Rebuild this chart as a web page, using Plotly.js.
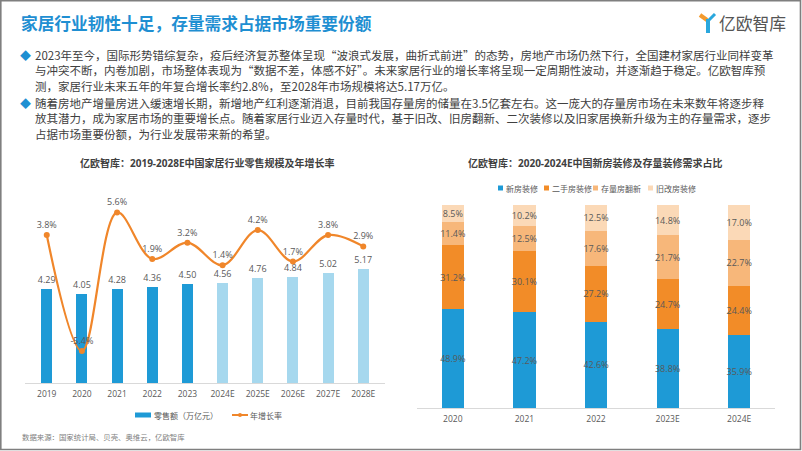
<!DOCTYPE html>
<html>
<head>
<meta charset="utf-8">
<script src="https://cdn.plot.ly/plotly-3.0.1.min.js"></script>
<style>
html,body{margin:0;padding:0;background:#fff;}
#chart{width:802px;height:451px;}
</style>
</head>
<body>
<div id="chart"></div>
<script>
// ---- Left chart data ----
const yearsL = ['2019','2020','2021','2022','2023','2024E','2025E','2026E','2027E','2028E'];
const retailScale = [4.29, 4.05, 4.28, 4.36, 4.50, 4.56, 4.76, 4.84, 5.02, 5.17];
const growthRate = [3.8, -5.4, 5.6, 1.9, 3.2, 1.4, 4.2, 1.7, 3.8, 2.9];
const retailLabels = ['4.29','4.05','4.28','4.36','4.50','4.56','4.76','4.84','5.02','5.17'];
const growthLabels = ['3.8%','-5.4%','5.6%','1.9%','3.2%','1.4%','4.2%','1.7%','3.8%','2.9%'];
const seriesNamesL = ['零售额（万亿元）', '年增长率'];

// ---- Right chart data ----
const yearsR = ['2020','2021','2022','2023E','2024E'];
const newHouse = [48.9, 47.2, 42.6, 38.8, 35.9];
const secondHand = [31.2, 30.1, 27.2, 24.7, 24.4];
const stockRenov = [11.4, 12.5, 17.6, 21.7, 22.7];
const oldRenov = [8.5, 10.2, 12.5, 14.8, 17.0];
const seriesNamesR = ['新房装修','二手房装修','存量房翻新','旧改房装修'];

// ---- Text ----
const pageTitle = '家居行业韧性十足，存量需求占据市场重要份额';
const para1 = [
  '2023年至今，国际形势错综复杂，疫后经济复苏整体呈现“波浪式发展，曲折式前进”的态势，房地产市场仍然下行，全国建材家居行业同样变革',
  '与冲突不断，内卷加剧，市场整体表现为“数据不差，体感不好”。未来家居行业的增长率将呈现一定周期性波动，并逐渐趋于稳定。亿欧智库预',
  '测，家居行业未来五年的年复合增长率约2.8%，至2028年市场规模将达5.17万亿。'
];
const para2 = [
  '随着房地产增量房进入缓速增长期，新增地产红利逐渐消退，目前我国存量房的储量在3.5亿套左右。这一庞大的存量房市场在未来数年将逐步释',
  '放其潜力，成为家居市场的重要增长点。随着家居行业迈入存量时代，基于旧改、旧房翻新、二次装修以及旧家居换新升级为主的存量需求，逐步',
  '占据市场重要份额，为行业发展带来新的希望。'
];
const leftTitle = '亿欧智库：2019-2028E中国家居行业零售规模及年增长率';
const rightTitle = '亿欧智库：2020-2024E中国新房装修及存量装修需求占比';
const sourceText = '数据来源：国家统计局、贝壳、奥维云，亿欧智库';

const W = 802, H = 451;
const px = v => v / W;
const py = v => 1 - v / H;
const FONT = '"Open Sans", "Noto Sans CJK SC", sans-serif';
const CJK = '"Noto Sans CJK SC", "Open Sans", sans-serif';
const TXT = '#404040';
const LBL = '#595959';

const darkBlue = '#1e9ad6';
const lightBlue = '#a6d8ee';
const orange = '#f0862a';
const barColors = yearsL.map(y => y.endsWith('E') ? lightBlue : darkBlue);

const traces = [
  {
    type: 'bar', x: yearsL, y: retailScale, name: seriesNamesL[0],
    xaxis: 'x', yaxis: 'y', showlegend: false,
    marker: {color: barColors},
    text: retailLabels, textposition: 'outside', cliponaxis: false,
    constraintext: 'none', textangle: 0,
    textfont: {size: 9, color: LBL, family: FONT},
    hoverinfo: 'skip'
  },
  {
    type: 'scatter', mode: 'lines+markers+text', x: yearsL, y: growthRate, name: seriesNamesL[1],
    xaxis: 'x', yaxis: 'y2', showlegend: false,
    line: {color: orange, width: 2.2, shape: 'spline', smoothing: 1},
    marker: {color: orange, size: 6},
    text: growthLabels, textposition: 'top center', cliponaxis: false,
    textfont: {size: 9, color: LBL, family: FONT},
    hoverinfo: 'skip'
  }
];

const rColors = ['#1e9ad6', '#f28c28', '#f7b77a', '#fbd9b7'];
const rData = [newHouse, secondHand, stockRenov, oldRenov];
rData.forEach((vals, i) => {
  traces.push({
    type: 'bar', x: yearsR, y: vals, name: seriesNamesR[i],
    xaxis: 'x3', yaxis: 'y3', showlegend: false,
    marker: {color: rColors[i]},
    text: vals.map(v => v.toFixed(1) + '%'), textposition: 'inside',
    insidetextanchor: 'middle', constraintext: 'none', textangle: 0,
    textfont: {size: 9, color: LBL, family: FONT},
    hoverinfo: 'skip'
  });
});

const annotations = [];
const shapes = [
  // frame
  {type: 'rect', xref: 'paper', yref: 'paper', x0: px(0.8), x1: px(800.5), y0: py(449.5), y1: py(0.8),
   line: {color: '#7f7f7f', width: 1.6}},
  // logo mark
  {type: 'line', xref: 'paper', yref: 'paper', x0: px(700), y0: py(15), x1: px(707), y1: py(20),
   line: {color: '#f39a2e', width: 4}},
  {type: 'line', xref: 'paper', yref: 'paper', x0: px(715), y0: py(14), x1: px(709), y1: py(20),
   line: {color: '#2aa7dd', width: 3}},
  {type: 'line', xref: 'paper', yref: 'paper', x0: px(708), y0: py(19), x1: px(708), y1: py(33),
   line: {color: '#2aa7dd', width: 4}}
];

annotations.push({
  xref: 'paper', yref: 'paper', x: px(19), y: py(23), xanchor: 'left', yanchor: 'middle',
  text: '<b>' + pageTitle + '</b>', showarrow: false,
  font: {size: 16.7, color: '#1f8fd2', family: CJK}
});
annotations.push({
  xref: 'paper', yref: 'paper', x: px(717), y: py(23), xanchor: 'left', yanchor: 'middle',
  text: '亿欧智库', showarrow: false,
  font: {size: 16.8, color: '#555555', family: CJK}
});
const p1y = [55, 70.5, 86];
const p2y = [103, 118.5, 134];
para1.forEach((t, i) => annotations.push({
  xref: 'paper', yref: 'paper', x: px(32.5), y: py(p1y[i]), xanchor: 'left', yanchor: 'middle',
  text: t, showarrow: false, font: {size: 11.5, color: TXT, family: CJK}
}));
para2.forEach((t, i) => annotations.push({
  xref: 'paper', yref: 'paper', x: px(32.5), y: py(p2y[i]), xanchor: 'left', yanchor: 'middle',
  text: t, showarrow: false, font: {size: 11.5, color: TXT, family: CJK}
}));
[55, 103].forEach(yy => annotations.push({
  xref: 'paper', yref: 'paper', x: px(25), y: py(yy), xanchor: 'center', yanchor: 'middle',
  text: '◆', showarrow: false, font: {size: 11, color: '#1f8fd2', family: CJK}
}));
annotations.push({
  xref: 'paper', yref: 'paper', x: px(207), y: py(163), xanchor: 'center', yanchor: 'middle',
  text: '<b>' + leftTitle + '</b>', showarrow: false, font: {size: 10, color: TXT, family: FONT}
});
annotations.push({
  xref: 'paper', yref: 'paper', x: px(595), y: py(163), xanchor: 'center', yanchor: 'middle',
  text: '<b>' + rightTitle + '</b>', showarrow: false, font: {size: 10, color: TXT, family: FONT}
});
annotations.push({
  xref: 'paper', yref: 'paper', x: px(19.5), y: py(436), xanchor: 'left', yanchor: 'middle',
  text: sourceText, showarrow: false, font: {size: 7.4, color: '#808080', family: CJK}
});

// ---- Left legend (custom) ----
shapes.push({type: 'rect', xref: 'paper', yref: 'paper', x0: px(135), x1: px(151), y0: py(417.5), y1: py(412.5),
             fillcolor: darkBlue, line: {width: 0}});
annotations.push({xref: 'paper', yref: 'paper', x: px(152), y: py(415), xanchor: 'left', yanchor: 'middle',
  text: seriesNamesL[0], showarrow: false, font: {size: 8, color: LBL, family: CJK}});
shapes.push({type: 'line', xref: 'paper', yref: 'paper', x0: px(232), x1: px(248), y0: py(415), y1: py(415),
             line: {color: orange, width: 2}});
shapes.push({type: 'circle', xref: 'paper', yref: 'paper', x0: px(238), x1: px(242), y0: py(417), y1: py(413),
             fillcolor: orange, line: {width: 0}});
annotations.push({xref: 'paper', yref: 'paper', x: px(248), y: py(415), xanchor: 'left', yanchor: 'middle',
  text: seriesNamesL[1], showarrow: false, font: {size: 8, color: LBL, family: CJK}});

// ---- Right legend (custom) ----
const legRx = [498, 544, 593, 648];
seriesNamesR.forEach((n, i) => {
  const x0 = legRx[i];
  shapes.push({type: 'rect', xref: 'paper', yref: 'paper', x0: px(x0), x1: px(x0 + 5), y0: py(190.5), y1: py(185.5),
               fillcolor: rColors[i], line: {width: 0}});
  annotations.push({xref: 'paper', yref: 'paper', x: px(x0 + 6), y: py(188), xanchor: 'left', yanchor: 'middle',
    text: n, showarrow: false, font: {size: 8, color: LBL, family: CJK}});
});

const axisTick = {size: 8.5, color: LBL, family: FONT};
const layout = {
  width: W, height: H,
  margin: {l: 0, r: 0, t: 0, b: 0},
  paper_bgcolor: '#ffffff', plot_bgcolor: 'rgba(0,0,0,0)',
  barmode: 'stack', bargap: 0.69,
  showlegend: false,
  font: {family: FONT, color: TXT},
  xaxis: {type: 'category', domain: [px(25), px(385)], anchor: 'y', showgrid: false, zeroline: false,
          showline: true, linecolor: '#d9d9d9', linewidth: 1, ticks: '', tickfont: axisTick,
          ticklabelstandoff: 3, fixedrange: true},
  yaxis: {domain: [py(383), py(195)], range: [0, 8.55], visible: false, fixedrange: true},
  yaxis2: {overlaying: 'y', range: [-7.94, 6.98], visible: false, fixedrange: true},
  xaxis3: {type: 'category', domain: [px(417), px(775)], anchor: 'y3', showgrid: false, zeroline: false,
           showline: true, linecolor: '#d9d9d9', linewidth: 1, ticks: '', tickfont: axisTick,
           ticklabelstandoff: 3, fixedrange: true},
  yaxis3: {domain: [py(408), py(205)], range: [0, 100], visible: false, fixedrange: true},
  annotations: annotations,
  shapes: shapes
};

Plotly.newPlot('chart', traces, layout, {displayModeBar: false, staticPlot: true});
</script>
</body>
</html>
